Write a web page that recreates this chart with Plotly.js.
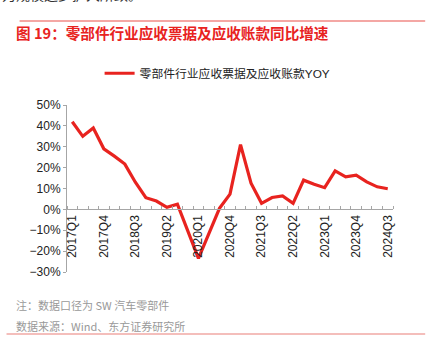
<!DOCTYPE html>
<html>
<head>
<meta charset="utf-8">
<script src="https://cdn.plot.ly/plotly-3.0.1.min.js"></script>
<style>
html,body{margin:0;padding:0;background:#fff;}
#chart{width:431px;height:357px;}
</style>
</head>
<body>
<div id="chart"></div>
<script>
var quarters = ["2017Q1","2017Q2","2017Q3","2017Q4","2018Q1","2018Q2","2018Q3","2018Q4",
  "2019Q1","2019Q2","2019Q3","2019Q4","2020Q1","2020Q2","2020Q3","2020Q4",
  "2021Q1","2021Q2","2021Q3","2021Q4","2022Q1","2022Q2","2022Q3","2022Q4",
  "2023Q1","2023Q2","2023Q3","2023Q4","2024Q1","2024Q2","2024Q3"];
var yoy = [42, 35, 39, 29, 25.5, 21.7, 13, 5.6,
  4, 1, 2.5, -10.5, -23.5, -11.5, 0.5, 7.3,
  31, 12.5, 2.9, 5.7, 6.4, 2.9, 14, 12,
  10.4, 18.4, 15.6, 16.4, 13.2, 10.8, 9.9];
var seriesName = "零部件行业应收票据及应收账款YOY";
var titleText = "图 19：零部件行业应收票据及应收账款同比增速";
var note1 = "注：数据口径为 SW 汽车零部件";
var note2 = "数据来源：Wind、东方证券研究所";
var topText = "力规模逐步扩大所致。";

var xIdx = quarters.map(function(q,i){return i;});
var tickIdx = xIdx.filter(function(i){return i%3===0;});
var tickTxt = tickIdx.map(function(i){return quarters[i];});

var FONT = "'Liberation Sans', Arial, 'Noto Sans CJK SC', sans-serif";
var CJK = "'Noto Sans CJK SC', 'Liberation Sans', sans-serif";
var LEG = "'Liberation Sans', 'Noto Sans CJK SC', sans-serif";
var RED = "#e8231f";
var AX = "#a6a6a6";

var data = [{
  x: xIdx, y: yoy, type: "scatter", mode: "lines", name: seriesName,
  line: {color: RED, width: 3.2}
}];

var layout = {
  width: 431, height: 357,
  margin: {l: 67, r: 38, t: 105, b: 85},
  paper_bgcolor: "#fff", plot_bgcolor: "#fff",
  font: {family: FONT, size: 12, color: "#222"},
  showlegend: true,
  legend: {orientation: "h", x: 0.1, xanchor: "left", y: 1.19, yanchor: "middle",
    font: {family: LEG, size: 11.8, color: "#222"}, bgcolor: "rgba(0,0,0,0)",
    itemwidth: 30},
  xaxis: {
    range: [-0.5, 30.5], anchor: "free", position: 0.375,
    showline: true, linecolor: AX, linewidth: 1,
    showgrid: false, zeroline: false,
    tickmode: "array", tickvals: tickIdx, ticktext: tickTxt,
    tickangle: -90, ticks: "", tickfont: {family: FONT, size: 12, color: "#222"},
    minor: {tick0: -0.5, dtick: 1, ticks: "inside", ticklen: 3, tickcolor: AX, showgrid: false}
  },
  yaxis: {
    range: [-30, 50], dtick: 10, ticksuffix: "%",
    showline: true, linecolor: AX, linewidth: 1,
    ticks: "outside", ticklen: 3, tickcolor: AX,
    showgrid: false, zeroline: false,
    tickfont: {family: FONT, size: 12, color: "#222"}
  },
  shapes: [
    {type: "line", xref: "paper", yref: "paper", x0: -0.1455, x1: 1.0987,
      y0: 1 + (105-21)/167, y1: 1 + (105-21)/167, line: {color: "#f08a86", width: 1.5}},
    {type: "line", xref: "paper", yref: "paper", x0: -0.1855, x1: 1.0987,
      y0: -(334-272)/167, y1: -(334-272)/167, line: {color: "#f0a8a4", width: 1.5}}
  ],
  annotations: [
    {text: topText, xref: "paper", yref: "paper", x: -0.2055, xanchor: "left",
      y: 1 + (105-6)/167, yanchor: "bottom", showarrow: false,
      font: {family: CJK, size: 14, color: "#333"}},
    {text: "<b>" + titleText + "</b>", xref: "paper", yref: "paper", x: (14-67)/326, xanchor: "left",
      y: 1 + (105-33)/167, yanchor: "middle", showarrow: false,
      font: {family: CJK, size: 14.6, color: "#e8231f"}},
    {text: note1, xref: "paper", yref: "paper", x: (14-67)/326, xanchor: "left",
      y: -(305-272)/167, yanchor: "middle", showarrow: false,
      font: {family: CJK, size: 11, color: "#999"}},
    {text: note2, xref: "paper", yref: "paper", x: (14-67)/326, xanchor: "left",
      y: -(326-272)/167, yanchor: "middle", showarrow: false,
      font: {family: CJK, size: 11, color: "#999"}}
  ]
};

Plotly.newPlot("chart", data, layout, {staticPlot: true, displayModeBar: false});
</script>
</body>
</html>
